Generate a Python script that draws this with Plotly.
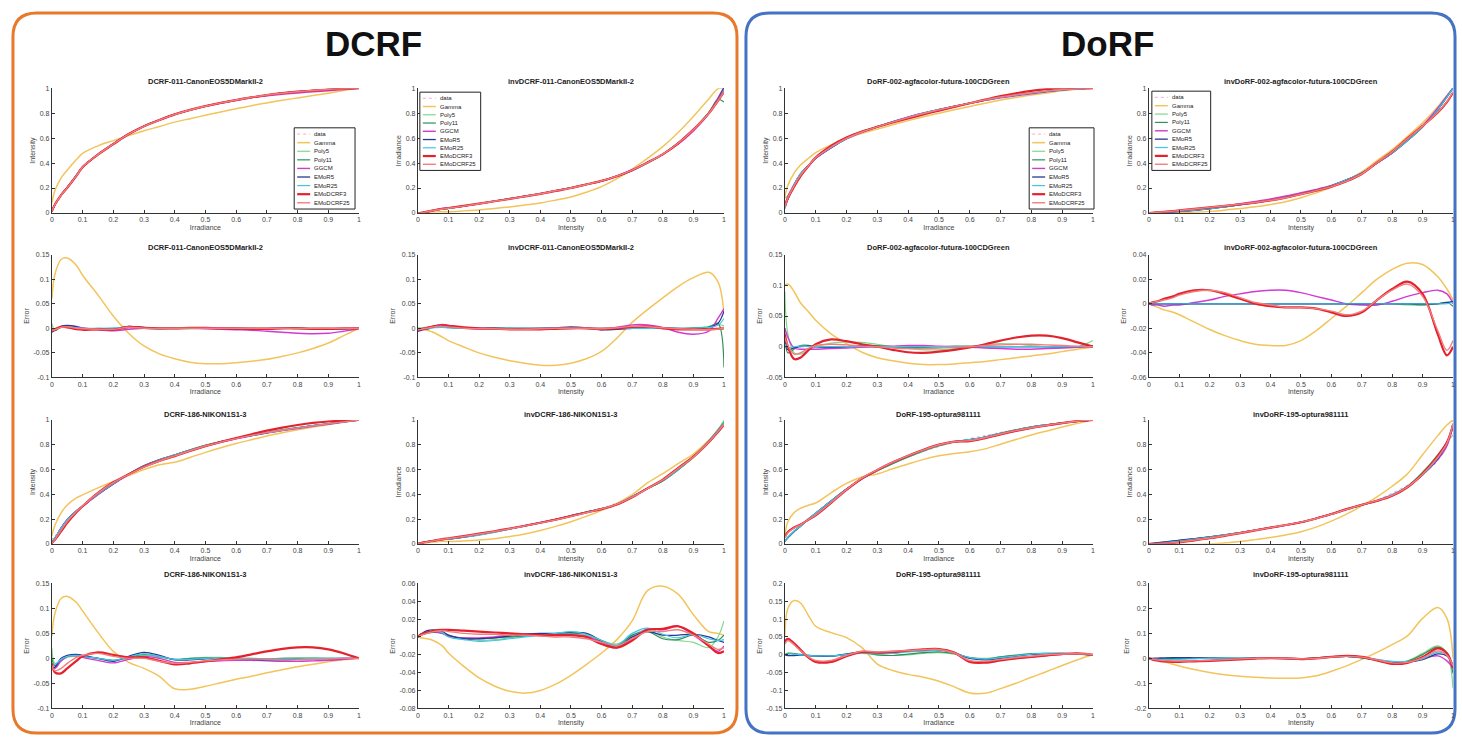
import plotly.graph_objects as go

W, H = 1462, 739

# ---------------- data ----------------
X = [0, 0.01, 0.03, 0.05, 0.08, 0.1, 0.15, 0.2, 0.25, 0.3, 0.35, 0.4, 0.45, 0.5,
     0.55, 0.6, 0.65, 0.7, 0.75, 0.8, 0.85, 0.9, 0.95, 0.98, 1.0]

SERIES = ["data", "Gamma", "Poly5", "Poly11", "GGCM", "EMoR5", "EMoR25", "EMoDCRF3", "EMoDCRF25"]
FITS = SERIES[1:]

TITLES = ["DCRF-011-CanonEOS5DMarkII-2", "invDCRF-011-CanonEOS5DMarkII-2",
          "DoRF-002-agfacolor-futura-100CDGreen", "invDoRF-002-agfacolor-futura-100CDGreen",
          "DCRF-186-NIKON1S1-3", "invDCRF-186-NIKON1S1-3",
          "DoRF-195-optura981111", "invDoRF-195-optura981111"]

XTICKS = [0, 0.1, 0.2, 0.3, 0.4, 0.5, 0.6, 0.7, 0.8, 0.9, 1]

# measured response curves ("data")
DCRF011_CURVE = [0.02, 0.07, 0.14, 0.2, 0.3, 0.37, 0.47, 0.555, 0.63, 0.695, 0.745, 0.79, 0.825,
                 0.855, 0.882, 0.905, 0.927, 0.945, 0.96, 0.972, 0.982, 0.99, 0.996, 0.999, 1.0]
INVDCRF011_CURVE = [0.0, 0.003, 0.01, 0.017, 0.028, 0.035, 0.055, 0.075, 0.095, 0.115, 0.135, 0.155,
                    0.178, 0.2, 0.228, 0.258, 0.295, 0.34, 0.4, 0.47, 0.56, 0.67, 0.8, 0.9, 0.97]
DORF002_CURVE = [0.03, 0.12, 0.23, 0.31, 0.39, 0.44, 0.525, 0.595, 0.648, 0.69, 0.73, 0.767, 0.8,
                 0.828, 0.855, 0.88, 0.904, 0.926, 0.944, 0.96, 0.974, 0.987, 0.995, 0.998, 1.0]
INVDORF002_CURVE = [0.0, 0.001, 0.004, 0.006, 0.01, 0.013, 0.022, 0.034, 0.049, 0.066, 0.083, 0.102,
                    0.125, 0.153, 0.183, 0.218, 0.265, 0.32, 0.4, 0.48, 0.58, 0.69, 0.83, 0.93, 1.0]
DCRF186_CURVE = [0.02, 0.06, 0.13, 0.19, 0.26, 0.3, 0.4, 0.49, 0.56, 0.62, 0.675, 0.72, 0.76,
                 0.795, 0.825, 0.852, 0.877, 0.9, 0.92, 0.938, 0.955, 0.97, 0.985, 0.994, 1.0]
INVDCRF186_CURVE = [0.0, 0.004, 0.011, 0.018, 0.03, 0.037, 0.056, 0.076, 0.097, 0.12, 0.143, 0.168,
                    0.194, 0.222, 0.253, 0.288, 0.33, 0.38, 0.44, 0.51, 0.6, 0.7, 0.83, 0.92, 0.98]
DORF195_CURVE = [0.02, 0.05, 0.1, 0.14, 0.21, 0.25, 0.35, 0.44, 0.52, 0.59, 0.65, 0.7, 0.745,
                 0.785, 0.82, 0.85, 0.875, 0.9, 0.922, 0.942, 0.958, 0.973, 0.987, 0.995, 1.0]
INVDORF195_CURVE = [0.0, 0.003, 0.008, 0.013, 0.021, 0.026, 0.04, 0.055, 0.072, 0.09, 0.11, 0.13,
                    0.152, 0.177, 0.205, 0.235, 0.27, 0.31, 0.355, 0.41, 0.475, 0.56, 0.67, 0.8, 1.0]

# fitting errors (fit - data) per model
DCRF011_ERR = {
    "Gamma":     [0.06, 0.11, 0.14, 0.143, 0.128, 0.108, 0.068, 0.025, -0.01, -0.036, -0.052, -0.062, -0.069,
                  -0.072, -0.072, -0.07, -0.067, -0.063, -0.057, -0.05, -0.041, -0.03, -0.015, -0.006, 0.0],
    "Poly5":     [0.01, -0.004, 0.002, 0.004, 0.002, 0.0, -0.002, -0.002, 0.001, 0.001, 0.0, -0.001, -0.001,
                  0.0, 0.001, 0.001, 0.001, 0.0, 0.0, -0.001, -0.001, -0.001, 0.0, 0.0, 0.0],
    "Poly11":    [0.0, -0.005, 0.004, 0.003, -0.001, -0.002, 0.0, -0.001, 0.002, 0.0, -0.001, 0.0, 0.0,
                  0.001, 0.0, 0.0, 0.0, -0.001, 0.0, 0.0, 0.0, 0.0, -0.001, 0.0, 0.0],
    "GGCM":      [-0.005, -0.003, 0.003, 0.005, 0.004, 0.001, -0.003, -0.005, -0.002, 0.0, 0.001, 0.001, 0.0,
                  -0.001, -0.002, -0.003, -0.004, -0.006, -0.008, -0.01, -0.011, -0.01, -0.006, -0.003, 0.0],
    "EMoR5":     [-0.008, -0.004, 0.004, 0.006, 0.003, -0.001, -0.002, -0.001, 0.004, 0.002, 0.0, 0.0, 0.0,
                  0.001, 0.0, -0.001, -0.001, 0.0, 0.001, 0.0, -0.001, -0.001, -0.001, 0.0, 0.0],
    "EMoR25":    [0.0, -0.002, 0.002, 0.003, 0.001, 0.0, 0.0, 0.001, 0.002, 0.001, 0.0, 0.0, 0.0,
                  0.0, 0.0, 0.0, 0.0, 0.0, 0.0, 0.0, 0.0, 0.0, 0.0, 0.0, 0.0],
    "EMoDCRF3":  [-0.006, -0.002, 0.003, 0.002, -0.002, -0.003, -0.002, -0.003, 0.003, 0.001, 0.0, 0.0, 0.001,
                  0.001, 0.0, 0.0, -0.001, -0.001, 0.0, 0.0, -0.001, -0.001, 0.0, 0.0, 0.0],
    "EMoDCRF25": [-0.004, -0.003, 0.002, 0.003, 0.0, -0.001, -0.002, -0.002, 0.002, 0.0, 0.0, 0.0, 0.0,
                  0.0, 0.0, 0.0, 0.0, 0.0, 0.0, -0.001, 0.0, 0.0, 0.0, 0.0, 0.0],
}
INVDCRF011_ERR = {
    "Gamma":     [0.0, -0.001, -0.004, -0.008, -0.018, -0.025, -0.038, -0.05, -0.059, -0.066, -0.071, -0.075, -0.075,
                  -0.071, -0.062, -0.047, -0.02, 0.012, 0.038, 0.062, 0.085, 0.103, 0.114, 0.095, 0.03],
    "Poly5":     [0.0, 0.001, 0.002, 0.003, 0.003, 0.002, 0.0, -0.001, 0.0, 0.001, 0.0, -0.001, 0.0,
                  0.001, 0.0, -0.001, 0.0, 0.002, 0.002, 0.0, -0.002, 0.0, 0.004, 0.008, 0.005],
    "Poly11":    [0.0, -0.002, -0.002, 0.002, 0.003, 0.002, 0.0, 0.0, 0.0, -0.001, 0.0, 0.0, 0.0,
                  0.001, 0.0, 0.0, 0.0, 0.001, 0.0, 0.0, 0.0, 0.001, 0.002, 0.01, -0.08],
    "GGCM":      [-0.005, -0.004, -0.001, 0.004, 0.008, 0.006, 0.001, -0.002, -0.002, -0.002, -0.001, 0.0, 0.0,
                  0.0, 0.0, -0.003, 0.002, 0.007, 0.007, 0.002, -0.008, -0.012, -0.006, 0.02, 0.04],
    "EMoR5":     [-0.006, -0.004, 0.0, 0.003, 0.003, 0.002, 0.0, 0.0, 0.001, 0.0, 0.0, 0.0, 0.001,
                  0.003, 0.001, -0.003, -0.002, 0.0, 0.002, 0.001, 0.0, -0.001, 0.002, 0.01, 0.035],
    "EMoR25":    [0.0, -0.001, 0.0, 0.001, 0.002, 0.001, 0.0, 0.0, 0.0, 0.0, 0.0, 0.0, 0.0,
                  0.001, 0.0, 0.0, 0.0, 0.0, 0.0, 0.0, 0.0, 0.0, 0.002, 0.006, 0.02],
    "EMoDCRF3":  [-0.004, -0.002, 0.001, 0.004, 0.006, 0.005, 0.002, 0.0, -0.001, -0.002, -0.002, -0.002, -0.001,
                  0.0, 0.0, -0.001, 0.0, 0.003, 0.004, 0.0, -0.002, -0.002, -0.002, -0.001, 0.0],
    "EMoDCRF25": [-0.003, -0.002, 0.0, 0.003, 0.004, 0.003, 0.0, -0.001, -0.001, -0.002, -0.002, -0.001, 0.0,
                  0.0, 0.0, -0.001, 0.001, 0.004, 0.003, 0.001, -0.001, -0.002, -0.003, -0.002, 0.0],
}
DORF002_ERR = {
    "Gamma":     [0.1, 0.102, 0.09, 0.072, 0.055, 0.043, 0.021, 0.005, -0.009, -0.018, -0.023, -0.027, -0.029,
                  -0.029, -0.028, -0.026, -0.024, -0.021, -0.018, -0.015, -0.012, -0.008, -0.004, -0.002, 0.0],
    "Poly5":     [0.09, 0.02, -0.01, -0.012, -0.005, 0.0, 0.006, 0.008, 0.007, 0.004, 0.0, -0.003, -0.005,
                  -0.005, -0.003, 0.0, 0.003, 0.005, 0.004, 0.002, 0.0, -0.001, 0.0, 0.005, 0.01],
    "Poly11":    [0.03, -0.01, -0.004, 0.002, 0.002, 0.0, -0.002, 0.0, 0.002, 0.002, 0.0, -0.001, -0.001,
                  0.0, 0.001, 0.001, 0.0, 0.0, 0.0, 0.0, 0.0, 0.0, 0.0, 0.001, 0.002],
    "GGCM":      [0.03, 0.015, -0.002, -0.004, -0.004, -0.004, -0.003, -0.002, -0.001, 0.0, 0.001, 0.002, 0.002,
                  0.001, 0.0, -0.001, -0.002, -0.003, -0.004, -0.004, -0.003, -0.002, -0.001, 0.0, 0.0],
    "EMoR5":     [0.01, -0.005, -0.002, 0.0, 0.001, 0.0, -0.001, 0.0, 0.001, 0.0, 0.0, 0.0, 0.0,
                  0.0, 0.0, 0.0, 0.0, 0.0, 0.0, 0.0, 0.0, 0.0, 0.0, 0.0, 0.0],
    "EMoR25":    [0.005, -0.002, 0.0, 0.001, 0.0, 0.0, 0.0, 0.0, 0.0, 0.0, 0.0, 0.0, 0.0,
                  0.0, 0.0, 0.0, 0.0, 0.0, 0.0, 0.0, 0.0, 0.0, 0.0, 0.0, 0.0],
    "EMoDCRF3":  [0.02, 0.0, -0.02, -0.018, -0.004, 0.004, 0.012, 0.009, 0.004, 0.0, -0.005, -0.009, -0.01,
                  -0.008, -0.005, -0.001, 0.004, 0.01, 0.015, 0.018, 0.018, 0.014, 0.007, 0.003, 0.0],
    "EMoDCRF25": [0.015, 0.002, -0.012, -0.01, -0.002, 0.002, 0.004, 0.003, 0.001, 0.0, -0.002, -0.003, -0.003,
                  -0.002, -0.001, 0.0, 0.002, 0.003, 0.004, 0.004, 0.003, 0.002, 0.001, 0.0, 0.0],
}
INVDORF002_ERR = {
    "Gamma":     [0.0, -0.001, -0.003, -0.005, -0.007, -0.009, -0.015, -0.021, -0.026, -0.03, -0.033, -0.034, -0.034,
                  -0.03, -0.022, -0.012, -0.002, 0.009, 0.02, 0.028, 0.033, 0.032, 0.022, 0.012, 0.003],
    "Poly5":     [0.0, 0.0, 0.0, 0.0, 0.0, 0.0, 0.0, 0.0, 0.0, 0.0, 0.0, 0.0, 0.0,
                  0.0, 0.0, 0.0, 0.0, 0.0, 0.0, 0.0, -0.001, -0.001, 0.0, 0.001, 0.001],
    "Poly11":    [0.0, 0.0, 0.0, 0.0, 0.0, 0.0, 0.0, 0.0, 0.0, 0.0, 0.0, 0.0, 0.0,
                  0.0, 0.0, 0.0, 0.0, 0.0, 0.0, 0.0, 0.0, -0.001, 0.0, 0.001, -0.002],
    "GGCM":      [0.0, -0.001, -0.001, -0.002, -0.001, -0.001, 0.001, 0.003, 0.006, 0.008, 0.01, 0.011, 0.011,
                  0.009, 0.006, 0.003, 0.0, -0.001, -0.001, 0.002, 0.006, 0.009, 0.011, 0.008, 0.0],
    "EMoR5":     [0.0, 0.0, 0.0, 0.0, 0.0, 0.0, 0.0, 0.0, 0.0, 0.0, 0.0, 0.0, 0.0,
                  0.0, 0.0, 0.0, 0.0, 0.0, 0.0, 0.0, 0.0, 0.0, 0.0, 0.001, 0.002],
    "EMoR25":    [0.0, 0.0, 0.0, 0.0, 0.0, 0.0, 0.0, 0.0, 0.0, 0.0, 0.0, 0.0, 0.0,
                  0.0, 0.0, 0.0, 0.0, 0.0, 0.0, 0.0, 0.0, 0.0, 0.0, 0.0, 0.001],
    "EMoDCRF3":  [0.0, 0.001, 0.002, 0.004, 0.006, 0.008, 0.011, 0.011, 0.008, 0.004, 0.0, -0.002, -0.003,
                  -0.003, -0.004, -0.007, -0.01, -0.007, 0.003, 0.012, 0.018, 0.008, -0.025, -0.042, -0.035],
    "EMoDCRF25": [0.0, 0.001, 0.002, 0.003, 0.005, 0.007, 0.01, 0.011, 0.009, 0.005, 0.001, -0.001, -0.003,
                  -0.003, -0.004, -0.006, -0.009, -0.006, 0.003, 0.011, 0.016, 0.006, -0.022, -0.038, -0.03],
}
DCRF186_ERR = {
    "Gamma":     [0.045, 0.09, 0.12, 0.124, 0.112, 0.095, 0.052, 0.014, -0.008, -0.02, -0.036, -0.061, -0.062,
                  -0.056, -0.049, -0.042, -0.036, -0.029, -0.023, -0.017, -0.012, -0.007, -0.003, -0.001, 0.0],
    "Poly5":     [0.02, -0.01, -0.005, 0.002, 0.004, 0.003, 0.0, -0.004, 0.0, 0.006, 0.002, -0.002, 0.0,
                  0.002, 0.002, 0.0, -0.001, -0.001, 0.0, 0.001, 0.001, 0.0, 0.0, 0.0, 0.0],
    "Poly11":    [0.0, -0.015, -0.005, 0.004, 0.006, 0.004, 0.0, -0.004, 0.002, 0.008, 0.004, -0.002, 0.0,
                  0.001, 0.0, 0.0, 0.0, -0.001, 0.0, 0.0, 0.0, 0.0, 0.0, 0.0, 0.0],
    "GGCM":      [-0.015, -0.02, -0.005, 0.004, 0.005, 0.002, -0.004, -0.009, -0.002, 0.004, 0.0, -0.008, -0.008,
                  -0.006, -0.005, -0.004, -0.004, -0.005, -0.006, -0.006, -0.005, -0.004, -0.002, -0.001, 0.0],
    "EMoR5":     [-0.02, -0.018, 0.0, 0.006, 0.008, 0.006, 0.0, -0.006, 0.004, 0.012, 0.006, -0.003, -0.003,
                  -0.001, 0.0, -0.001, -0.002, -0.003, -0.003, -0.002, -0.001, -0.001, 0.0, 0.0, 0.0],
    "EMoR25":    [-0.01, -0.012, -0.002, 0.004, 0.006, 0.004, 0.0, -0.004, 0.003, 0.009, 0.004, -0.002, -0.002,
                  0.0, 0.0, 0.0, -0.001, -0.001, -0.001, -0.001, 0.0, 0.0, 0.0, 0.0, 0.0],
    "EMoDCRF3":  [-0.01, -0.028, -0.03, -0.02, -0.005, 0.004, 0.012, 0.007, 0.002, 0.002, -0.005, -0.012, -0.01,
                  -0.006, -0.002, 0.002, 0.008, 0.014, 0.019, 0.022, 0.022, 0.018, 0.01, 0.004, 0.0],
    "EMoDCRF25": [-0.015, -0.025, -0.02, -0.01, 0.002, 0.006, 0.01, 0.004, 0.0, 0.0, -0.006, -0.01, -0.008,
                  -0.005, -0.003, -0.002, -0.001, -0.002, -0.003, -0.003, -0.002, -0.001, 0.0, 0.0, 0.0],
}
INVDCRF186_ERR = {
    "Gamma":     [0.0, -0.001, -0.002, -0.004, -0.01, -0.018, -0.033, -0.046, -0.055, -0.061, -0.063, -0.06, -0.053,
                  -0.043, -0.031, -0.018, -0.003, 0.018, 0.052, 0.057, 0.048, 0.025, 0.006, 0.004, 0.002],
    "Poly5":     [0.0, 0.003, 0.005, 0.006, 0.005, 0.002, -0.002, -0.004, -0.003, -0.001, 0.001, 0.002, 0.003,
                  0.004, 0.002, -0.004, -0.008, 0.002, 0.008, 0.0, -0.004, -0.006, -0.012, 0.0, 0.018],
    "Poly11":    [0.0, 0.002, 0.004, 0.005, 0.004, 0.001, -0.001, -0.002, -0.001, 0.0, 0.001, 0.002, 0.002,
                  0.003, 0.004, -0.004, -0.01, 0.002, 0.006, -0.002, -0.003, 0.002, -0.006, -0.004, 0.002],
    "GGCM":      [0.0, 0.002, 0.005, 0.006, 0.004, 0.001, -0.001, -0.001, 0.0, 0.002, 0.003, 0.003, 0.002,
                  0.002, 0.001, -0.006, -0.012, -0.002, 0.009, 0.008, 0.012, 0.002, -0.01, -0.016, -0.01],
    "EMoR5":     [0.0, 0.003, 0.007, 0.008, 0.006, 0.002, -0.002, -0.002, -0.001, 0.001, 0.003, 0.004, 0.004,
                  0.005, 0.004, -0.005, -0.012, 0.0, 0.006, 0.002, 0.002, 0.003, 0.0, -0.004, -0.006],
    "EMoR25":    [0.0, 0.002, 0.005, 0.007, 0.005, 0.0, -0.003, -0.005, -0.004, -0.002, 0.0, 0.002, 0.004,
                  0.006, 0.003, -0.004, -0.009, 0.004, 0.01, 0.003, -0.001, 0.003, -0.002, -0.004, -0.003],
    "EMoDCRF3":  [0.0, 0.003, 0.005, 0.007, 0.008, 0.008, 0.007, 0.006, 0.005, 0.004, 0.003, 0.002, 0.002,
                  0.002, 0.0, -0.008, -0.012, -0.004, 0.008, 0.009, 0.012, 0.004, -0.01, -0.018, -0.016],
    "EMoDCRF25": [0.0, 0.002, 0.004, 0.006, 0.007, 0.006, 0.004, 0.003, 0.003, 0.002, 0.002, 0.001, 0.0,
                  0.0, -0.002, -0.006, -0.01, -0.002, 0.006, 0.006, 0.008, 0.002, -0.008, -0.014, -0.012],
}
DORF195_ERR = {
    "Gamma":     [0.05, 0.13, 0.152, 0.146, 0.105, 0.08, 0.062, 0.048, 0.02, -0.026, -0.044, -0.055, -0.063,
                  -0.074, -0.09, -0.107, -0.108, -0.095, -0.08, -0.063, -0.047, -0.03, -0.014, -0.005, 0.0],
    "Poly5":     [0.0, 0.005, 0.004, 0.002, -0.002, -0.004, -0.004, 0.0, 0.004, 0.0, -0.002, 0.0, 0.004,
                  0.006, 0.002, -0.008, -0.01, -0.006, -0.002, 0.002, 0.004, 0.004, 0.002, 0.0, 0.0],
    "Poly11":    [0.0, 0.004, 0.003, 0.0, -0.003, -0.004, -0.003, 0.002, 0.006, 0.0, -0.002, 0.002, 0.006,
                  0.008, 0.003, -0.008, -0.012, -0.006, -0.001, 0.003, 0.004, 0.003, 0.002, 0.0, 0.0],
    "GGCM":      [0.04, 0.045, 0.03, 0.012, -0.01, -0.018, -0.018, 0.0, 0.006, 0.004, 0.008, 0.01, 0.012,
                  0.014, 0.005, -0.018, -0.02, -0.015, -0.01, -0.006, -0.002, 0.001, 0.002, 0.001, 0.0],
    "EMoR5":     [0.0, -0.002, -0.002, -0.001, -0.002, -0.003, -0.004, 0.002, 0.008, 0.004, 0.005, 0.01, 0.013,
                  0.015, 0.006, -0.01, -0.014, -0.01, -0.004, 0.001, 0.003, 0.004, 0.002, 0.001, 0.0],
    "EMoR25":    [0.0, 0.002, 0.002, 0.0, -0.002, -0.003, -0.003, 0.001, 0.006, 0.003, 0.004, 0.008, 0.01,
                  0.012, 0.005, -0.008, -0.012, -0.008, -0.003, 0.002, 0.004, 0.005, 0.003, 0.001, 0.0],
    "EMoDCRF3":  [0.035, 0.045, 0.032, 0.015, -0.01, -0.02, -0.02, -0.004, 0.008, 0.006, 0.008, 0.012, 0.015,
                  0.016, 0.006, -0.02, -0.022, -0.016, -0.01, -0.006, -0.002, 0.002, 0.004, 0.002, 0.0],
    "EMoDCRF25": [0.03, 0.04, 0.028, 0.012, -0.008, -0.016, -0.016, -0.002, 0.01, 0.008, 0.01, 0.012, 0.014,
                  0.015, 0.005, -0.016, -0.018, -0.013, -0.008, -0.004, 0.0, 0.002, 0.003, 0.002, 0.0],
}
INVDORF195_ERR = {
    "Gamma":     [0.0, -0.003, -0.009, -0.014, -0.024, -0.031, -0.045, -0.057, -0.066, -0.072, -0.076, -0.079, -0.08,
                  -0.079, -0.07, -0.052, -0.03, -0.004, 0.024, 0.055, 0.09, 0.16, 0.204, 0.16, 0.0],
    "Poly5":     [0.0, -0.002, -0.003, -0.003, -0.002, -0.002, 0.0, 0.002, 0.002, 0.0, 0.0, 0.001, 0.0,
                  -0.002, 0.0, 0.004, 0.008, 0.004, -0.006, -0.018, -0.01, 0.02, 0.05, 0.02, -0.12],
    "Poly11":    [0.0, -0.002, -0.003, -0.002, -0.001, 0.0, 0.001, 0.001, 0.0, 0.0, 0.001, 0.001, 0.0,
                  -0.001, 0.002, 0.006, 0.008, 0.002, -0.008, -0.02, -0.012, 0.015, 0.045, 0.02, -0.06],
    "GGCM":      [0.0, -0.004, -0.008, -0.01, -0.012, -0.012, -0.01, -0.008, -0.005, -0.002, 0.0, 0.0, -0.002,
                  -0.004, 0.0, 0.006, 0.01, 0.006, -0.006, -0.02, -0.015, 0.0, 0.01, -0.01, -0.04],
    "EMoR5":     [0.0, 0.0, 0.001, 0.002, 0.003, 0.003, 0.002, 0.001, 0.0, 0.0, 0.001, 0.002, 0.0,
                  -0.002, 0.001, 0.006, 0.008, 0.003, -0.006, -0.015, -0.015, -0.005, 0.018, 0.01, -0.03],
    "EMoR25":    [0.0, -0.002, -0.004, -0.005, -0.005, -0.004, -0.002, 0.0, 0.001, 0.001, 0.0, 0.0, -0.001,
                  -0.002, 0.0, 0.005, 0.008, 0.004, -0.004, -0.012, -0.012, -0.002, 0.025, 0.015, -0.04],
    "EMoDCRF3":  [0.0, -0.004, -0.009, -0.012, -0.014, -0.014, -0.012, -0.01, -0.007, -0.004, -0.001, 0.001, 0.0,
                  -0.003, 0.0, 0.006, 0.01, 0.006, -0.008, -0.022, -0.018, 0.005, 0.04, 0.02, -0.04],
    "EMoDCRF25": [0.0, -0.003, -0.007, -0.009, -0.011, -0.011, -0.01, -0.008, -0.005, -0.002, 0.0, 0.001, 0.0,
                  -0.002, 0.0, 0.005, 0.008, 0.005, -0.006, -0.018, -0.016, 0.002, 0.03, 0.012, -0.03],
}

# ---------------- styling ----------------
COLORS = {"data": "#F6A9CF", "Gamma": "#F2C45A", "Poly5": "#7FD88A", "Poly11": "#2F8F5B",
          "GGCM": "#D23AD0", "EMoR5": "#28388F", "EMoR25": "#42C4EA", "EMoDCRF3": "#E3222E",
          "EMoDCRF25": "#F27D7D"}
WIDTHS = {"data": 1.0, "Gamma": 1.5, "Poly5": 1.2, "Poly11": 1.2, "GGCM": 1.4, "EMoR5": 1.3,
          "EMoR25": 1.2, "EMoDCRF3": 2.2, "EMoDCRF25": 1.4}
FONT = "Liberation Sans, Arial, sans-serif"

COLX = [(50, 358), (417, 724), (785, 1094), (1150, 1455)]
ROWY = [(85, 211), (253, 377), (420, 545), (585, 711)]
TITLE_Y = [78, 246, 414, 576]

PANELS = [  # (row of curve plot, col, curve, errors, forward?)
    (0, 0, DCRF011_CURVE, DCRF011_ERR, True),
    (0, 1, INVDCRF011_CURVE, INVDCRF011_ERR, False),
    (0, 2, DORF002_CURVE, DORF002_ERR, True),
    (0, 3, INVDORF002_CURVE, INVDORF002_ERR, False),
    (2, 0, DCRF186_CURVE, DCRF186_ERR, True),
    (2, 1, INVDCRF186_CURVE, INVDCRF186_ERR, False),
    (2, 2, DORF195_CURVE, DORF195_ERR, True),
    (2, 3, INVDORF195_CURVE, INVDORF195_ERR, False),
]
ERR_RANGES = {(1, 0): (-0.1, 0.15, 0.05), (1, 1): (-0.1, 0.15, 0.05), (1, 2): (-0.05, 0.15, 0.05),
              (1, 3): (-0.06, 0.04, 0.02), (3, 0): (-0.1, 0.15, 0.05), (3, 1): (-0.08, 0.06, 0.02),
              (3, 2): (-0.15, 0.2, 0.05), (3, 3): (-0.2, 0.3, 0.1)}
LEGENDS = {(0, 0): (293, 125, 354, 207), (0, 1): (419, 89, 480, 168),
           (0, 2): (1030, 125, 1095, 207), (0, 3): (1153, 88, 1212, 168)}


def px(x):
    return x / W


def py(y):
    return 1 - y / H


fig = go.Figure()
layout = {}
annotations = []
shapes = []


def axis_index(row, col):
    return row * 4 + col + 1


def setup_axes(row, col, yrange, dtick, xtitle, ytitle):
    i = axis_index(row, col)
    sx = "" if i == 1 else str(i)
    x0, x1 = COLX[col]
    y0, y1 = ROWY[row]
    common = dict(showline=True, linecolor="#333", linewidth=1, ticks="inside", ticklen=3,
                  tickcolor="#333", showgrid=False, zeroline=False, ticklabeloverflow="allow",
                  tickfont=dict(family=FONT, size=7, color="#444"))
    layout["xaxis" + sx] = dict(domain=[px(x0), px(x1)], anchor="y" + sx, range=[0, 1],
                                tickvals=XTICKS, ticktext=[f"{t:g}" for t in XTICKS],
                                title=dict(text=xtitle, font=dict(family=FONT, size=7, color="#444"), standoff=2),
                                **common)
    ticks = []
    v = yrange[0]
    while v <= yrange[1] + 1e-9:
        ticks.append(round(v, 4))
        v += dtick
    layout["yaxis" + sx] = dict(domain=[py(y1), py(y0)], anchor="x" + sx, range=list(yrange),
                                tickvals=ticks, ticktext=[f"{t:g}" for t in ticks],
                                title=dict(text=ytitle, font=dict(family=FONT, size=7, color="#444"), standoff=3),
                                **common)
    return "x" + sx, "y" + sx


k = 0
for (row, col, curve, errs, fwd) in PANELS:
    xt = "Irradiance" if fwd else "Intensity"
    yt = "Intensity" if fwd else "Irradiance"
    # --- curve plot ---
    xa, ya = setup_axes(row, col, (0, 1), 0.2, xt, yt)
    fig.add_trace(go.Scatter(x=X, y=curve, mode="lines", name="data", showlegend=False,
                             xaxis=xa, yaxis=ya, line=dict(color=COLORS["data"], width=WIDTHS["data"],
                                                           dash="dot", shape="spline")))
    for name in FITS:
        yv = [round(d + e, 4) for d, e in zip(curve, errs[name])]
        fig.add_trace(go.Scatter(x=X, y=yv, mode="lines", name=name, showlegend=False,
                                 xaxis=xa, yaxis=ya,
                                 line=dict(color=COLORS[name], width=WIDTHS[name], shape="spline")))
    # --- error plot ---
    erow = row + 1
    lo, hi, dt = ERR_RANGES[(erow, col)]
    xa2, ya2 = setup_axes(erow, col, (lo, hi), dt, xt, "Error")
    for name in FITS:
        fig.add_trace(go.Scatter(x=X, y=errs[name], mode="lines", name=name, showlegend=False,
                                 xaxis=xa2, yaxis=ya2,
                                 line=dict(color=COLORS[name], width=WIDTHS[name], shape="spline")))
    # titles
    cx = (COLX[col][0] + COLX[col][1]) / 2
    for r in (row, erow):
        annotations.append(dict(text=TITLES[k], x=px(cx), y=py(TITLE_Y[r]), xref="paper", yref="paper",
                                showarrow=False, xanchor="center", yanchor="middle",
                                font=dict(family=FONT, size=7.5, color="#222", weight="bold")))
    k += 1

# manual compact legends (MATLAB style)
for (r, c), (lx0, ly0, lx1, ly1) in LEGENDS.items():
    shapes.append(dict(type="rect", xref="paper", yref="paper", x0=px(lx0), x1=px(lx1),
                       y0=py(ly1), y1=py(ly0), line=dict(color="#222", width=1), fillcolor="white"))
    step = (ly1 - ly0 - 4) / len(SERIES)
    for j, name in enumerate(SERIES):
        yy = ly0 + 2 + step * (j + 0.5)
        shapes.append(dict(type="line", xref="paper", yref="paper", x0=px(lx0 + 3), x1=px(lx0 + 16),
                           y0=py(yy), y1=py(yy),
                           line=dict(color=COLORS[name], width=WIDTHS[name],
                                     dash="dot" if name == "data" else "solid")))
        annotations.append(dict(text=name, x=px(lx0 + 18), y=py(yy), xref="paper", yref="paper",
                                showarrow=False, xanchor="left", yanchor="middle",
                                font=dict(family=FONT, size=6, color="#222")))


# rounded group boxes
def rounded_path(x0, y0, x1, y1, r):
    rx, ry = r / W, r / H
    X0, X1, Y0, Y1 = px(x0), px(x1), py(y0), py(y1)
    return (f"M {X0 + rx},{Y0} L {X1 - rx},{Y0} Q {X1},{Y0} {X1},{Y0 - ry} "
            f"L {X1},{Y1 + ry} Q {X1},{Y1} {X1 - rx},{Y1} L {X0 + rx},{Y1} "
            f"Q {X0},{Y1} {X0},{Y1 + ry} L {X0},{Y0 - ry} Q {X0},{Y0} {X0 + rx},{Y0} Z")


shapes.append(dict(type="path", xref="paper", yref="paper", path=rounded_path(11, 9, 737, 736, 24),
                   line=dict(color="#E8792B", width=3), layer="below"))
shapes.append(dict(type="path", xref="paper", yref="paper", path=rounded_path(746, 9, 1457, 736, 24),
                   line=dict(color="#4472C4", width=3), layer="below"))

annotations.append(dict(text="DCRF", x=px(373), y=py(40), xref="paper", yref="paper", showarrow=False,
                        xanchor="center", yanchor="middle",
                        font=dict(family=FONT, size=35, color="#111", weight="bold")))
annotations.append(dict(text="DoRF", x=px(1109), y=py(40), xref="paper", yref="paper", showarrow=False,
                        xanchor="center", yanchor="middle",
                        font=dict(family=FONT, size=35, color="#111", weight="bold")))

fig.update_layout(width=W, height=H, margin=dict(l=0, r=0, t=0, b=0),
                  paper_bgcolor="white", plot_bgcolor="white", showlegend=False,
                  annotations=annotations, shapes=shapes, **layout)

fig.write_html("out.html", config={"displayModeBar": False},
               post_script="document.body.style.margin='0px';document.body.style.overflow='hidden';")
